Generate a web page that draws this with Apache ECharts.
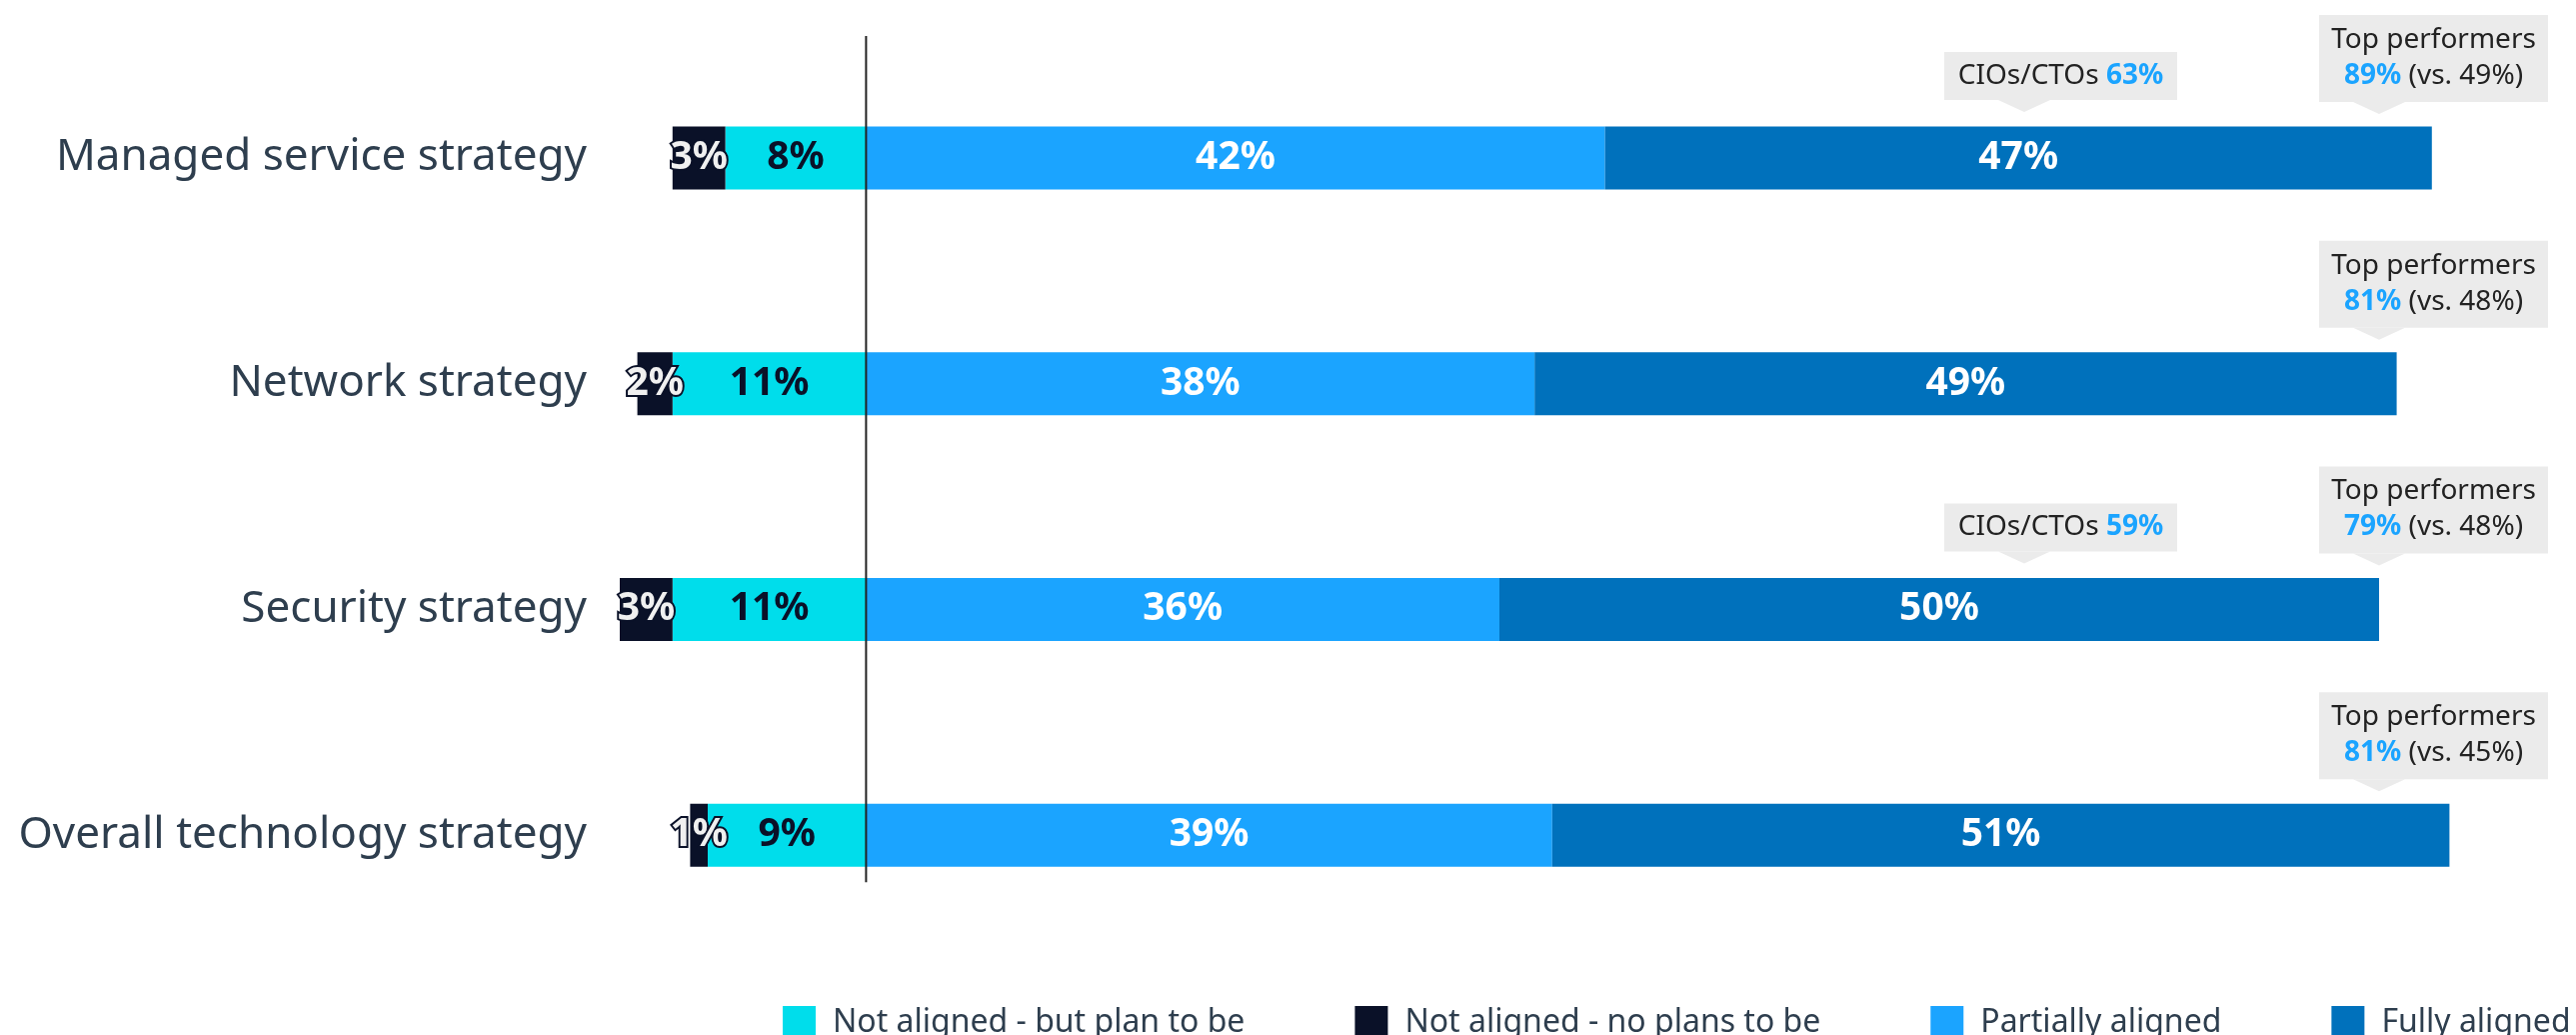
<!DOCTYPE html>
<html>
<head>
<meta charset="utf-8">
<script src="https://cdn.jsdelivr.net/npm/echarts@6/dist/echarts.min.js"></script>
<style>
  html, body { margin: 0; padding: 0; background: #fff; }
  #chart { width: 2577px; height: 1035px; }
</style>
</head>
<body>
<div id="chart"></div>
<script>
// Alignment of strategies with business goals (share of respondents, %)
const categories = ['Managed service strategy', 'Network strategy', 'Security strategy', 'Overall technology strategy'];
const seriesNames = ['Not aligned - but plan to be', 'Not aligned - no plans to be', 'Partially aligned', 'Fully aligned'];
const planToBe = [8, 11, 11, 9];
const noPlans = [3, 2, 3, 1];
const partially = [42, 38, 36, 39];
const fully = [47, 49, 50, 51];

// Call-outs shown above the bars
const cioShare = [63, null, 59, null];
const topShare = [89, 81, 79, 81];
const topVs = [49, 48, 48, 45];

const FONT = '"Noto Sans", "Open Sans", sans-serif';
const COLORS = { plan: '#00DDEB', none: '#0A1128', partial: '#1BA4FF', full: '#0071BC' };
const TEXT = '#2E3E4E';

const chart = echarts.init(document.getElementById('chart'), null, { renderer: 'canvas' });

const pct = p => Math.abs(p.value) + '%';
const barLabel = (color, extra) => Object.assign({
  show: true, position: 'inside', formatter: pct,
  fontFamily: FONT, fontWeight: 'bold', fontSize: 39, color: color
}, extra || {});

chart.setOption({
  backgroundColor: '#fff',
  animation: false,
  textStyle: { fontFamily: FONT },
  grid: { left: 620, right: 21, top: 45, bottom: 87 },
  xAxis: {
    type: 'value', min: -14, max: 96,
    show: false
  },
  yAxis: {
    type: 'category', data: categories, inverse: true,
    axisLine: { show: false }, axisTick: { show: false },
    axisLabel: { fontFamily: FONT, fontSize: 44, color: TEXT, margin: 33 }
  },
  legend: {
    left: 778, top: 1001, width: 2000,
    itemWidth: 33, itemHeight: 34, itemGap: 110, icon: 'rect',
    textStyle: { fontFamily: FONT, fontSize: 32, color: TEXT, padding: [0, 0, 0, 12] },
    data: seriesNames
  },
  series: [
    {
      name: seriesNames[0], type: 'bar', stack: 'share', barWidth: 63,
      data: planToBe.map(v => -v),
      itemStyle: { color: COLORS.plan },
      label: barLabel(COLORS.none)
    },
    {
      name: seriesNames[1], type: 'bar', stack: 'share', barWidth: 63,
      data: noPlans.map(v => -v),
      itemStyle: { color: COLORS.none },
      label: barLabel('#F0F0F0', { textBorderColor: COLORS.none, textBorderWidth: 4 })
    },
    {
      name: seriesNames[2], type: 'bar', stack: 'share', barWidth: 63,
      data: partially,
      itemStyle: { color: COLORS.partial },
      label: barLabel('#fff')
    },
    {
      name: seriesNames[3], type: 'bar', stack: 'share', barWidth: 63,
      data: fully,
      itemStyle: { color: COLORS.full },
      label: barLabel('#fff')
    }
  ]
});

// Zero line and call-out boxes, placed from the category axis positions
function buildOverlay() {
  const els = [];
  const x0 = chart.convertToPixel({ xAxisIndex: 0 }, 0);
  const yFirst = chart.convertToPixel({ yAxisIndex: 0 }, categories[0]);
  const yLast = chart.convertToPixel({ yAxisIndex: 0 }, categories[categories.length - 1]);

  const boxFill = '#EBEBEB';
  const calloutFont = '28px ' + FONT;
  const valueRich = { v: { fill: COLORS.partial, fontWeight: 'bold', fontSize: 28, fontFamily: FONT } };
  const pointer = (tipX, tipY, baseY) => ({
    type: 'polygon', z: 20,
    shape: { points: [[tipX - 26, baseY], [tipX + 26, baseY], [tipX, tipY]] },
    style: { fill: boxFill }
  });

  categories.forEach((c, i) => {
    const cy = chart.convertToPixel({ yAxisIndex: 0 }, c);

    // Top performers box
    const tx = 2320, tw = 229, tt = cy - 143, th = 87;
    els.push({ type: 'rect', z: 20, shape: { x: tx, y: tt, width: tw, height: th }, style: { fill: boxFill } });
    els.push(pointer(2380, cy - 44, tt + th));
    els.push({
      type: 'text', z: 21, x: tx + tw / 2, y: tt + 25,
      style: { text: 'Top performers', fill: '#222', font: calloutFont, align: 'center', verticalAlign: 'middle' }
    });
    els.push({
      type: 'text', z: 21, x: tx + tw / 2, y: tt + 61,
      style: {
        text: '{v|' + topShare[i] + '%} (vs. ' + topVs[i] + '%)',
        fill: '#222', font: calloutFont, align: 'center', verticalAlign: 'middle',
        rich: valueRich
      }
    });

    // CIO/CTO box
    if (cioShare[i] != null) {
      const bx = 1945, bw = 233, bt = cy - 106, bh = 48;
      els.push({ type: 'rect', z: 20, shape: { x: bx, y: bt, width: bw, height: bh }, style: { fill: boxFill } });
      els.push(pointer(2025, cy - 46, bt + bh));
      els.push({
        type: 'text', z: 21, x: bx + bw / 2, y: bt + bh / 2,
        style: {
          text: 'CIOs/CTOs {v|' + cioShare[i] + '%}',
          fill: '#222', font: calloutFont, align: 'center', verticalAlign: 'middle',
          rich: valueRich
        }
      });
    }
  });

  els.push({
    type: 'line', z: 30,
    shape: { x1: x0, y1: yFirst - 122, x2: x0, y2: yLast + 47 },
    style: { stroke: '#222', lineWidth: 2 }
  });

  chart.setOption({ graphic: els });
}
buildOverlay();
</script>
</body>
</html>
